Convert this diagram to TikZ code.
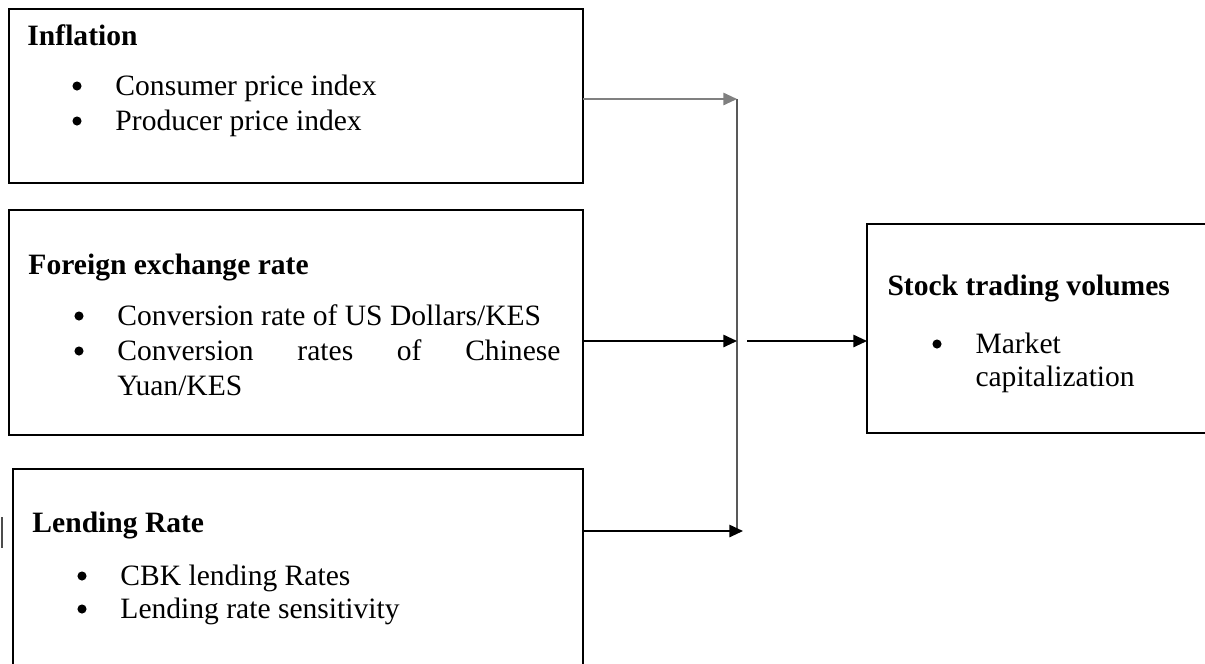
\documentclass[tikz,border=0pt]{standalone}
\usepackage{fontspec}
\setmainfont{Liberation Serif}
\usetikzlibrary{arrows.meta}

\newlength\pxu
\setlength\pxu{0.406pt}

\begin{document}
\begin{tikzpicture}[x=0.406pt, y=-0.406pt,
    every node/.style={font=\fontsize{12}{14}\selectfont},
    box/.style={draw, line width=0.7pt, inner sep=0pt, outer sep=0pt},
    head/.style={anchor=base west, inner sep=0pt, font=\fontsize{12}{14}\selectfont\bfseries},
    entry/.style={anchor=base west, inner sep=0pt},
    flow/.style={line width=0.6pt, -{Triangle[length=5.5pt,width=5pt]}}]
    \useasboundingbox (0,0) rectangle (1205,663);

    %boxes
    \node[box, minimum width=574\pxu, minimum height=174\pxu] (infl) at (296,96) {};
    \node[box, minimum width=574\pxu, minimum height=225\pxu] (fx) at (296,322.5) {};
    \node[box, minimum width=570\pxu, minimum height=231\pxu] (lend) at (298,584.5) {};
    \node[box, minimum width=363\pxu, minimum height=209\pxu] (stv) at (1048.5,328.5) {};
    \draw[line width=1.2pt, black!70] (2,517) -- (2,548);

    %bullets
    \foreach \bx/\by in {77/86, 77/121, 79/316, 79/351, 82/576, 82/609, 937/344}
        \fill (\bx,\by) circle[radius=1.85pt];

    %inflation
    \node[head] (inflhead) at (27,45) {Inflation};
    \node[entry] (cpi) at (115,95) {Consumer price index};
    \node[entry] (ppi) at (115,130) {Producer price index};

    %exchange rate
    \node[head] (fxhead) at (28,274) {Foreign exchange rate};
    \node[entry] (usd) at (117,325) {Conversion rate of US Dollars/KES};
    \node[entry] (cny) at (117,360) {\makebox[443\pxu][s]{Conversion rates of Chinese}};
    \node[entry] (cnyb) at (117,395) {Yuan/KES};

    %lending rate
    \node[head] (lendhead) at (32,532) {Lending Rate};
    \node[entry] (cbk) at (120,585) {CBK lending Rates};
    \node[entry] (sens) at (120,618) {Lending rate sensitivity};

    %trading volumes
    \node[head] (stvhead) at (887,295) {Stock trading volumes};
    \node[entry] (mcap) at (975,353) {Market};
    \node[entry] (mcapb) at (975,386) {capitalization};

    %connectors
    \coordinate (jtop) at (737,99);
    \coordinate (jmid) at (737,341);
    \coordinate (jbot) at (737,531);
    \draw[line width=0.6pt, black!65] (jtop) -- (jbot);
    \draw[flow, gray] (infl.east |- jtop) -- (jtop);
    \draw[flow] (fx.east |- jmid) -- (jmid);
    \draw[flow] (lend.east |- jbot) -- ([xshift=6\pxu]jbot);
    \draw[flow] ([xshift=10\pxu]jmid) -- (stv.west |- jmid);
\end{tikzpicture}
\end{document}
